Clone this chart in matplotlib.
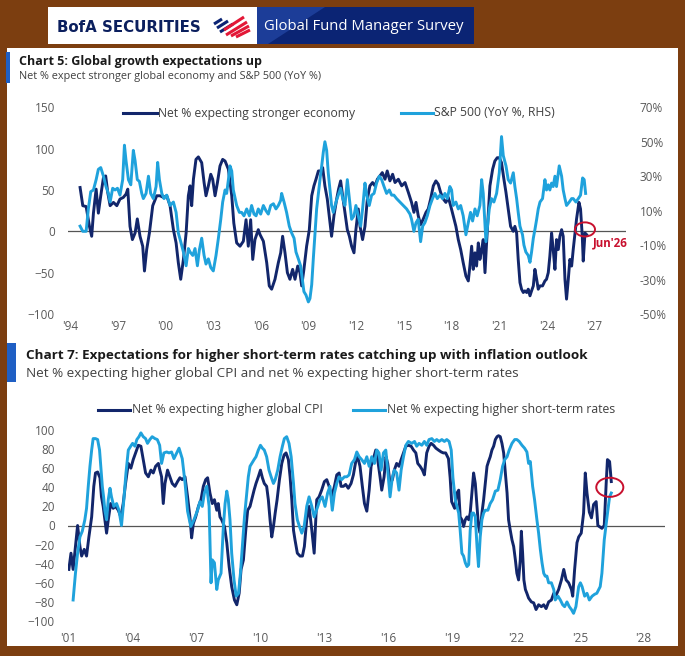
import matplotlib
matplotlib.use("Agg")
import matplotlib.pyplot as plt
from matplotlib.patches import Rectangle, Ellipse, Polygon
from matplotlib.lines import Line2D

plt.rcParams["font.family"] = ["Open Sans", "DejaVu Sans"]

# Chart 5: net % expecting stronger economy (left axis)
eco_t = [1994.63, 1994.80, 1995.01, 1995.22, 1995.36, 1995.47, 1995.64, 1995.78, 1995.93, 1996.10,
         1996.24, 1996.37, 1996.52, 1996.73, 1996.94, 1997.14, 1997.35, 1997.52, 1997.63, 1997.77,
         1997.92, 1998.09, 1998.23, 1998.40, 1998.57, 1998.68, 1998.82, 1998.99, 1999.20, 1999.45,
         1999.66, 1999.87, 2000.08, 2000.29, 2000.50, 2000.67, 2000.81, 2000.96, 2001.13, 2001.30,
         2001.44, 2001.55, 2001.65, 2001.76, 2001.92, 2002.07, 2002.28, 2002.43, 2002.55, 2002.70,
         2002.85, 2002.97, 2003.12, 2003.27, 2003.43, 2003.60, 2003.75, 2003.96, 2004.17, 2004.30,
         2004.48, 2004.69, 2004.90, 2005.07, 2005.21, 2005.36, 2005.49, 2005.63, 2005.84, 2005.95,
         2006.16, 2006.37, 2006.53, 2006.68, 2006.89, 2007.10, 2007.25, 2007.37, 2007.52, 2007.67,
         2007.83, 2008.00, 2008.15, 2008.32, 2008.46, 2008.57, 2008.71, 2008.88, 2009.05, 2009.20,
         2009.34, 2009.47, 2009.62, 2009.76, 2009.89, 2010.03, 2010.18, 2010.35, 2010.45, 2010.60,
         2010.77, 2010.89, 2011.02, 2011.13, 2011.29, 2011.44, 2011.57, 2011.71, 2011.86, 2011.98,
         2012.13, 2012.24, 2012.40, 2012.55, 2012.70, 2012.86, 2013.03, 2013.18, 2013.33, 2013.49,
         2013.64, 2013.81, 2013.95, 2014.12, 2014.29, 2014.44, 2014.65, 2014.86, 2015.07, 2015.28,
         2015.48, 2015.63, 2015.76, 2015.90, 2016.05, 2016.22, 2016.39, 2016.53, 2016.68, 2016.85,
         2017.01, 2017.16, 2017.31, 2017.48, 2017.64, 2017.79, 2017.94, 2018.10, 2018.27, 2018.42,
         2018.57, 2018.73, 2018.90, 2019.05, 2019.15, 2019.26, 2019.36, 2019.47, 2019.57, 2019.68,
         2019.78, 2019.89, 2019.99, 2020.10, 2020.20, 2020.31, 2020.41, 2020.58, 2020.72, 2020.87,
         2021.00, 2021.14, 2021.29, 2021.42, 2021.56, 2021.71, 2021.88, 2021.98, 2022.09, 2022.19,
         2022.30, 2022.40, 2022.51, 2022.61, 2022.72, 2022.82, 2022.93, 2023.03, 2023.14, 2023.24,
         2023.35, 2023.45, 2023.56, 2023.72, 2023.87, 2023.97, 2024.08, 2024.18, 2024.29, 2024.39,
         2024.50, 2024.60, 2024.71, 2024.81, 2024.92, 2025.02, 2025.13, 2025.23, 2025.34, 2025.44,
         2025.55, 2025.65, 2025.76, 2025.86, 2026.01, 2026.11, 2026.22, 2026.28, 2026.39, 2026.49]
eco_v = [53, 31, 30, 6, -6, 22, 51, 22, 43, 65,
         67, 47, 31, 35, 31, 39, 41, 45, 51, 6,
         -10, -2, 15, -6, -18, -48, -22, -2, 31, 43,
         43, 41, 43, 31, 2, -14, -38, -58, -34, -2,
         43, 55, 31, 63, 87, 90, 83, 59, 43, 55,
         69, 63, 43, 59, 79, 87, 85, 75, 43, 10,
         -14, -18, -12, 14, -18, 14, -34, -10, 2, -4,
         -12, -38, -66, -70, -58, -38, -26, -6, -26, -50,
         -58, -46, -58, -42, -50, -66, -46, -18, 2, 43,
         55, 63, 73, 73, 77, 55, 39, 10, -6, 19,
         39, 51, 61, 45, 23, 2, -6, -18, -26, 2,
         27, 6, -10, 6, 39, 55, 59, 55, 63, 67,
         71, 63, 73, 61, 69, 59, 63, 55, 59, 47,
         35, 23, 35, 19, 8, 15, 23, 27, 39, 55,
         61, 57, 47, 39, 35, 41, 31, 19, 6, -10,
         -22, -38, -54, -60, -42, -18, -46, -26, -42, -14,
         -34, -22, -10, -50, -14, 23, 55, 75, 85, 89,
         89, 83, 63, 47, 27, 6, 0, 6, -2, -34,
         -62, -70, -74, -72, -74, -70, -78, -72, -66, -46,
         -58, -70, -66, -66, -60, -58, -50, -30, -2, -22,
         -46, -10, -22, -6, 2, -6, -58, -82, -58, -34,
         -42, -22, -2, 15, 35, 27, -6, -36, -2, -4]

# Chart 5: S&P 500 YoY % (right axis)
spx_t = [1994.63, 1994.80, 1995.01, 1995.15, 1995.30, 1995.47, 1995.64, 1995.78, 1995.93, 1996.10,
         1996.26, 1996.41, 1996.52, 1996.68, 1996.83, 1996.98, 1997.14, 1997.31, 1997.42, 1997.52,
         1997.67, 1997.82, 1997.98, 1998.09, 1998.23, 1998.36, 1998.51, 1998.61, 1998.78, 1998.93,
         1999.07, 1999.24, 1999.41, 1999.51, 1999.62, 1999.77, 1999.91, 2000.08, 2000.29, 2000.50,
         2000.67, 2000.81, 2000.96, 2001.13, 2001.30, 2001.44, 2001.55, 2001.72, 2001.86, 2002.01,
         2002.13, 2002.28, 2002.43, 2002.55, 2002.70, 2002.85, 2003.01, 2003.18, 2003.33, 2003.48,
         2003.60, 2003.75, 2003.85, 2003.96, 2004.06, 2004.17, 2004.27, 2004.48, 2004.65, 2004.79,
         2004.94, 2005.11, 2005.28, 2005.42, 2005.57, 2005.70, 2005.84, 2005.99, 2006.16, 2006.32,
         2006.47, 2006.62, 2006.79, 2006.95, 2007.10, 2007.25, 2007.31, 2007.46, 2007.62, 2007.79,
         2007.94, 2008.09, 2008.21, 2008.36, 2008.50, 2008.63, 2008.71, 2008.84, 2008.99, 2009.09,
         2009.20, 2009.30, 2009.41, 2009.51, 2009.62, 2009.72, 2009.83, 2009.93, 2010.03, 2010.14,
         2010.24, 2010.35, 2010.45, 2010.56, 2010.73, 2010.87, 2011.02, 2011.15, 2011.29, 2011.44,
         2011.57, 2011.71, 2011.86, 2011.98, 2012.13, 2012.28, 2012.40, 2012.55, 2012.66, 2012.82,
         2012.97, 2013.12, 2013.28, 2013.45, 2013.60, 2013.75, 2013.91, 2014.08, 2014.23, 2014.37,
         2014.54, 2014.75, 2014.96, 2015.17, 2015.38, 2015.48, 2015.63, 2015.76, 2015.90, 2016.05,
         2016.18, 2016.32, 2016.47, 2016.64, 2016.80, 2016.95, 2017.10, 2017.27, 2017.43, 2017.58,
         2017.73, 2017.89, 2018.00, 2018.10, 2018.27, 2018.42, 2018.57, 2018.73, 2018.90, 2019.05,
         2019.19, 2019.32, 2019.47, 2019.61, 2019.78, 2019.89, 2019.99, 2020.16, 2020.26, 2020.37,
         2020.51, 2020.66, 2020.83, 2021.00, 2021.14, 2021.25, 2021.42, 2021.56, 2021.71, 2021.88,
         2021.98, 2022.09, 2022.19, 2022.30, 2022.46, 2022.55, 2022.67, 2022.82, 2022.93, 2023.03,
         2023.14, 2023.24, 2023.35, 2023.45, 2023.56, 2023.72, 2023.87, 2023.97, 2024.08, 2024.18,
         2024.29, 2024.39, 2024.50, 2024.60, 2024.77, 2024.92, 2025.02, 2025.13, 2025.23, 2025.40,
         2025.55, 2025.65, 2025.82, 2025.97, 2026.11, 2026.24, 2026.34, 2026.43]
spx_v = [1, -2, -2, 11, 21, 22, 28, 34, 35, 30,
         24, 20, 15, 23, 22, 23, 19, 28, 48, 39,
         28, 25, 45, 39, 28, 27, 20, 17, 20, 30,
         20, 17, 24, 38, 28, 20, 17, 19, 13, 15,
         9, -3, -8, -14, -22, -12, -14, -16, -12, -22,
         -13, -6, -16, -21, -18, -23, -25, -16, -6, 5,
         15, 22, 20, 28, 36, 33, 22, 13, 9, 9,
         7, 11, 7, 13, 8, 7, 11, 8, 13, 10,
         8, 13, 14, 11, 13, 16, 20, 15, 9, 1,
         -3, -6, -14, -18, -22, -31, -37, -39, -43, -41,
         -33, -18, -3, 11, 20, 28, 36, 44, 50, 45,
         32, 22, 13, 9, 15, 19, 23, 17, 13, 28,
         17, 5, 7, 13, 7, 1, 11, 26, 19, 13,
         19, 20, 26, 30, 28, 24, 20, 22, 19, 19,
         17, 15, 13, 11, 8, 5, -2, 3, 5, -8,
         1, 3, 7, 13, 17, 20, 17, 19, 17, 20,
         17, 24, 22, 13, 15, 11, 13, 7, -4, 3,
         9, 4, 11, 7, 13, 28, 20, -8, 1, 11,
         17, 15, 20, 32, 53, 42, 36, 28, 26, 32,
         24, 17, 9, 1, -4, -10, -14, -16, -20, -14,
         -6, -1, 5, 11, 15, 17, 28, 22, 25, 22,
         26, 24, 30, 24, 36, 30, 22, 17, 13, 15,
         17, 17, 15, 17, 19, 29, 28, 20]

# Chart 7: net % expecting higher global CPI
cpi_t = [2001.03, 2001.13, 2001.23, 2001.34, 2001.44, 2001.55, 2001.63, 2001.75, 2001.86, 2001.97,
         2002.10, 2002.20, 2002.28, 2002.38, 2002.49, 2002.56, 2002.64, 2002.72, 2002.80, 2002.88,
         2002.99, 2003.11, 2003.22, 2003.35, 2003.47, 2003.58, 2003.69, 2003.82, 2003.94, 2004.05,
         2004.16, 2004.29, 2004.41, 2004.52, 2004.63, 2004.76, 2004.88, 2004.99, 2005.10, 2005.23,
         2005.30, 2005.38, 2005.46, 2005.54, 2005.66, 2005.77, 2005.88, 2006.01, 2006.13, 2006.24,
         2006.35, 2006.48, 2006.60, 2006.71, 2006.79, 2006.87, 2006.98, 2007.11, 2007.23, 2007.34,
         2007.45, 2007.54, 2007.65, 2007.76, 2007.86, 2007.97, 2008.04, 2008.12, 2008.20, 2008.33,
         2008.44, 2008.55, 2008.67, 2008.80, 2008.91, 2009.02, 2009.11, 2009.22, 2009.33, 2009.42,
         2009.53, 2009.61, 2009.72, 2009.81, 2009.92, 2010.02, 2010.11, 2010.20, 2010.31, 2010.39,
         2010.47, 2010.55, 2010.63, 2010.71, 2010.80, 2010.91, 2011.02, 2011.13, 2011.22, 2011.33,
         2011.41, 2011.49, 2011.57, 2011.64, 2011.75, 2011.88, 2011.99, 2012.08, 2012.19, 2012.30,
         2012.43, 2012.54, 2012.66, 2012.77, 2012.89, 2013.02, 2013.13, 2013.24, 2013.36, 2013.49,
         2013.60, 2013.71, 2013.80, 2013.91, 2014.02, 2014.14, 2014.27, 2014.38, 2014.49, 2014.58,
         2014.69, 2014.80, 2014.90, 2015.01, 2015.12, 2015.21, 2015.32, 2015.43, 2015.52, 2015.63,
         2015.71, 2015.82, 2015.91, 2015.99, 2016.10, 2016.21, 2016.30, 2016.41, 2016.52, 2016.62,
         2016.73, 2016.84, 2016.96, 2017.09, 2017.20, 2017.31, 2017.40, 2017.51, 2017.62, 2017.71,
         2017.82, 2017.93, 2018.03, 2018.14, 2018.25, 2018.37, 2018.50, 2018.60, 2018.71, 2018.84,
         2018.92, 2018.99, 2019.13, 2019.24, 2019.32, 2019.39, 2019.47, 2019.55, 2019.63, 2019.71,
         2019.79, 2019.86, 2019.94, 2020.02, 2020.10, 2020.18, 2020.25, 2020.33, 2020.41, 2020.49,
         2020.57, 2020.65, 2020.72, 2020.80, 2020.88, 2020.96, 2021.04, 2021.12, 2021.19, 2021.27,
         2021.35, 2021.43, 2021.51, 2021.59, 2021.66, 2021.74, 2021.82, 2021.90, 2021.98, 2022.05,
         2022.13, 2022.21, 2022.26, 2022.32, 2022.38, 2022.45, 2022.52, 2022.60, 2022.73, 2022.84,
         2022.95, 2023.07, 2023.20, 2023.31, 2023.42, 2023.54, 2023.67, 2023.78, 2023.89, 2024.01,
         2024.14, 2024.25, 2024.36, 2024.48, 2024.61, 2024.67, 2024.76, 2024.87, 2024.95, 2025.07,
         2025.18, 2025.26, 2025.34, 2025.45, 2025.55, 2025.65, 2025.77, 2025.85, 2026.04, 2026.15,
         2026.24, 2026.30, 2026.40, 2026.48]
cpi_v = [-46, -29, -46, -22, 0, -22, -32, -25, -32, -12,
         9, 41, 55, 56, 50, 30, 20, 6, -8, 6,
         23, 18, 20, 16, 9, 23, 44, 65, 60, 69,
         76, 84, 83, 69, 55, 51, 58, 55, 62, 65,
         58, 51, 23, 44, 58, 51, 44, 41, 46, 50,
         48, 51, 30, 9, -13, 2, 9, 20, 27, 41,
         48, 50, 34, 23, 27, 16, 23, 9, 6, -1,
         -18, -43, -64, -78, -83, -71, -46, -36, -5, 16,
         20, 27, 37, 44, 51, 58, 50, 44, 41, 27,
         6, -12, -1, 13, 27, 48, 65, 74, 76, 69,
         51, 27, -5, -15, -29, -32, -32, -22, 6, 20,
         -5, -29, 27, 30, 37, 46, 48, 41, 30, 41,
         53, 55, 41, 41, 43, 39, 44, 53, 67, 72,
         62, 41, 23, 15, 37, 62, 70, 79, 69, 51,
         37, 51, 72, 65, 44, 48, 58, 65, 62, 69,
         76, 83, 84, 83, 79, 76, 65, 62, 58, 53,
         76, 83, 86, 84, 81, 79, 77, 76, 76, 70,
         50, 25, 18, 34, 37, 9, 6, -1, 6, 9,
         6, 13, 34, 55, 44, 20, -1, -8, 13, 27,
         44, 62, 67, 72, 79, 83, 90, 93, 94, 93,
         86, 76, 55, 34, 6, -5, -15, -22, -36, -50,
         -57, -36, -6, -29, -57, -67, -71, -76, -80, -81,
         -88, -83, -85, -83, -87, -80, -78, -71, -73, -67,
         -57, -46, -57, -60, -67, -74, -46, -18, -12, -8,
         13, 55, 34, 14, 8, 22, 25, 0, -3, 0,
         44, 69, 67, 46]

# Chart 7: net % expecting higher short-term rates
rate_t = [2001.23, 2001.34, 2001.44, 2001.55, 2001.66, 2001.78, 2001.86, 2001.94, 2002.02, 2002.10,
          2002.17, 2002.28, 2002.38, 2002.47, 2002.53, 2002.60, 2002.66, 2002.72, 2002.80, 2002.88,
          2002.96, 2003.03, 2003.14, 2003.27, 2003.38, 2003.50, 2003.61, 2003.71, 2003.82, 2003.93,
          2004.02, 2004.13, 2004.22, 2004.32, 2004.41, 2004.52, 2004.63, 2004.72, 2004.83, 2004.94,
          2005.07, 2005.18, 2005.29, 2005.38, 2005.49, 2005.62, 2005.73, 2005.85, 2005.96, 2006.09,
          2006.20, 2006.35, 2006.48, 2006.60, 2006.75, 2006.90, 2007.07, 2007.18, 2007.29, 2007.39,
          2007.50, 2007.61, 2007.70, 2007.76, 2007.86, 2007.97, 2008.04, 2008.17, 2008.28, 2008.36,
          2008.44, 2008.51, 2008.59, 2008.67, 2008.78, 2008.88, 2008.99, 2009.08, 2009.17, 2009.27,
          2009.38, 2009.45, 2009.53, 2009.61, 2009.72, 2009.81, 2009.92, 2010.02, 2010.11, 2010.20,
          2010.31, 2010.42, 2010.52, 2010.63, 2010.71, 2010.83, 2010.94, 2011.05, 2011.14, 2011.25,
          2011.36, 2011.46, 2011.57, 2011.64, 2011.75, 2011.85, 2011.96, 2012.07, 2012.19, 2012.30,
          2012.43, 2012.54, 2012.71, 2012.81, 2012.92, 2013.05, 2013.17, 2013.28, 2013.39, 2013.49,
          2013.60, 2013.71, 2013.83, 2013.96, 2014.07, 2014.18, 2014.30, 2014.43, 2014.54, 2014.65,
          2014.77, 2014.90, 2015.01, 2015.12, 2015.24, 2015.37, 2015.48, 2015.58, 2015.68, 2015.79,
          2015.90, 2015.99, 2016.10, 2016.21, 2016.30, 2016.41, 2016.52, 2016.62, 2016.73, 2016.84,
          2016.96, 2017.12, 2017.25, 2017.35, 2017.46, 2017.59, 2017.71, 2017.82, 2017.93, 2018.06,
          2018.18, 2018.29, 2018.40, 2018.53, 2018.65, 2018.76, 2018.87, 2018.97, 2019.05, 2019.16,
          2019.24, 2019.32, 2019.39, 2019.47, 2019.55, 2019.63, 2019.71, 2019.79, 2019.86, 2019.94,
          2020.02, 2020.10, 2020.18, 2020.25, 2020.33, 2020.41, 2020.49, 2020.57, 2020.69, 2020.80,
          2020.91, 2021.04, 2021.16, 2021.27, 2021.38, 2021.48, 2021.59, 2021.69, 2021.82, 2021.95,
          2022.05, 2022.16, 2022.29, 2022.41, 2022.52, 2022.60, 2022.68, 2022.79, 2022.88, 2022.99,
          2023.07, 2023.15, 2023.23, 2023.31, 2023.38, 2023.46, 2023.54, 2023.67, 2023.78, 2023.85,
          2023.98, 2024.09, 2024.20, 2024.29, 2024.40, 2024.51, 2024.61, 2024.71, 2024.82, 2024.95,
          2025.03, 2025.11, 2025.23, 2025.34, 2025.45, 2025.58, 2025.70, 2025.80, 2025.96, 2026.04,
          2026.15, 2026.28, 2026.40, 2026.48]
rate_v = [-78, -50, -29, -12, -6, 6, 18, 41, 62, 79,
          91, 91, 90, 79, 62, 41, 30, 16, 6, 27,
          39, 30, 20, 23, 16, 0, 27, 55, 79, 83,
          86, 83, 90, 93, 97, 93, 91, 86, 90, 93,
          91, 90, 84, 65, 76, 77, 76, 77, 70, 76,
          81, 70, 45, 15, -1, 6, 16, 25, 20, 34,
          41, 20, -60, -36, -39, -67, -57, -50, -1, 23,
          36, 27, 6, -29, -57, -74, -71, -50, -22, 9,
          34, 51, 62, 65, 69, 72, 79, 84, 81, 79,
          72, 58, 51, 44, 48, 58, 72, 83, 91, 93,
          86, 72, 44, 23, 6, -1, -8, -1, 20, 30,
          20, 9, 20, 27, 30, 20, 34, 41, 16, 34,
          44, 51, 48, 51, 51, 53, 65, 69, 77, 72,
          69, 65, 72, 62, 72, 65, 79, 76, 58, 76,
          79, 58, 30, 51, 58, 55, 37, 58, 72, 84,
          88, 86, 88, 83, 86, 84, 88, 84, 90, 91,
          88, 90, 88, 90, 88, 90, 88, 79, 50, 27,
          20, 13, -5, -29, -32, -39, -43, -41, -5, 13,
          13, 9, -22, -43, -12, 6, 13, 16, 16, 23,
          27, 36, 37, 48, 62, 69, 72, 79, 86, 90,
          90, 88, 84, 81, 77, 65, 67, 41, 27, 6,
          -8, -25, -39, -50, -53, -53, -60, -60, -67, -78,
          -74, -78, -83, -85, -80, -85, -88, -92, -85, -64,
          -60, -64, -74, -71, -78, -74, -72, -71, -64, -50,
          -15, 9, 30, 34]

ticks5 = [1994, 1997, 2000, 2003, 2006, 2009, 2012, 2015, 2018, 2021, 2024, 2027]
ticks7 = [2001, 2004, 2007, 2010, 2013, 2016, 2019, 2022, 2025, 2028]

BROWN = "#7c3e10"
NAVY = "#12266b"
CYAN = "#1fa2dc"
RED = "#c8102e"
GREY = "#595959"
LW = 2.1

W, H = 685, 656
fig = plt.figure(figsize=(W / 100, H / 100), dpi=100)
fig.patch.set_facecolor(BROWN)


def fx(x):
    return x / W


def fy(y):
    return 1 - y / H


def rect(x0, y0, x1, y1):
    return [x0 / W, 1 - y1 / H, (x1 - x0) / W, (y1 - y0) / H]


def box(x0, y0, x1, y1, color):
    fig.add_artist(Rectangle((fx(x0), fy(y1)), (x1 - x0) / W, (y1 - y0) / H,
                             transform=fig.transFigure, color=color, lw=0, zorder=-5))


# header and white panel (drawn under the axes)
box(7, 48, 678, 646, "white")
box(48, 7, 257, 44, "white")
box(257, 7, 474, 44, "#0b2474")
fig.add_artist(Polygon([(fx(257), fy(7)), (fx(325), fy(7)), (fx(268), fy(44)), (fx(257), fy(44))],
                       closed=True, transform=fig.transFigure, color="#1c3d98", lw=0, zorder=-4))
fig.text(fx(57), fy(27), "BofA SECURITIES", family="DejaVu Sans", fontweight="bold",
         fontsize=10.8, color="#0b1f5e", va="center", ha="left")
for x0, y0, x1, y1 in [(214, 24, 222, 19), (217, 28, 228, 21), (220, 32, 233, 24)]:
    fig.add_artist(Line2D([fx(x0), fx(x1)], [fy(y0), fy(y1)], transform=fig.transFigure,
                          color="#0b2474", lw=2.2, solid_capstyle="butt"))
for x0, y0, x1, y1 in [(226, 35, 247, 22), (231, 36, 249, 26), (224, 30, 244, 17), (236, 37, 250, 30)]:
    fig.add_artist(Line2D([fx(x0), fx(x1)], [fy(y0), fy(y1)], transform=fig.transFigure,
                          color="#e31837", lw=2.2, solid_capstyle="butt"))
fig.text(fx(264), fy(26), "Global Fund Manager Survey", color="white", fontsize=10.7,
         va="center", ha="left")

# ---------------- Chart 5 ----------------
box(6, 52, 10, 83, "#1f5fc4")
fig.text(fx(19), fy(62), "Chart 5: Global growth expectations up", fontweight="bold",
         fontsize=9.0, color="#1a1a1a", va="center")
fig.text(fx(19), fy(76), "Net % expect stronger global economy and S&P 500 (YoY %)",
         fontsize=7.8, color="#404040", va="center")

ax1 = fig.add_axes(rect(68, 107.3, 626, 314))
ax1.patch.set_alpha(0)
ax1.set_xlim(1993.87, 2028.97)
ax1.set_ylim(-100, 150)
ax1.axhline(0, color="#555555", lw=0.9, zorder=1)
ax1.plot(eco_t, eco_v, color=NAVY, lw=LW, zorder=3)
ax1.set_xticks(ticks5)
ax1.set_xticklabels(["'" + str(t)[2:] for t in ticks5])
ax1.set_yticks([-100, -50, 0, 50, 100, 150])
ax1.tick_params(length=0, labelsize=8.5, labelcolor=GREY)
ax1.tick_params(axis="y", pad=9.5)
ax1.tick_params(axis="x", pad=4)

ax2 = ax1.twinx()
ax2.set_ylim(-50, 70)
ax2.plot(spx_t, spx_v, color=CYAN, lw=LW)
ax2.set_yticks([-50, -30, -10, 10, 30, 50, 70])
ax2.set_yticklabels([str(v) + "%" for v in [-50, -30, -10, 10, 30, 50, 70]])
ax2.tick_params(length=0, labelsize=8.5, labelcolor=GREY, pad=10)
for a in (ax1, ax2):
    for s in a.spines.values():
        s.set_visible(False)

ax2.add_patch(Ellipse((2026.39, -0.9), 1.26, 8.2, fill=False, ec=RED, lw=1.4, zorder=5))
ax2.text(2026.9, -8.5, "Jun'26", color=RED, fontsize=8.3, fontweight="bold",
         ha="left", va="center")

fig.add_artist(Line2D([fx(123), fx(157)], [fy(113), fy(113)], transform=fig.transFigure, color=NAVY, lw=2.2))
fig.text(fx(158), fy(113), "Net % expecting stronger economy", fontsize=8.7, color="#404040", va="center")
fig.add_artist(Line2D([fx(401), fx(433)], [fy(113), fy(113)], transform=fig.transFigure, color=CYAN, lw=2.2))
fig.text(fx(434), fy(113), "S&P 500 (YoY %, RHS)", fontsize=8.7, color="#404040", va="center")

# ---------------- Chart 7 ----------------
box(7, 343, 16, 382, "#1f5fc4")
fig.text(fx(26), fy(355), "Chart 7: Expectations for higher short-term rates catching up with inflation outlook",
         fontweight="bold", fontsize=9.7, color="#1a1a1a", va="center")
fig.text(fx(26), fy(373), "Net % expecting higher global CPI and net % expecting higher short-term rates",
         fontsize=9.7, color="#404040", va="center")

ax3 = fig.add_axes(rect(68, 430, 665, 621))
ax3.patch.set_alpha(0)
ax3.set_xlim(2000.99, 2029.0)
ax3.set_ylim(-100, 100)
ax3.axhline(0, color="#555555", lw=0.9, zorder=1)
ax3.plot(cpi_t, cpi_v, color=NAVY, lw=LW, zorder=3)
ax3.plot(rate_t, rate_v, color=CYAN, lw=LW, zorder=4)
ax3.set_xticks(ticks7)
ax3.set_xticklabels(["'" + str(t)[2:] for t in ticks7])
ax3.set_yticks(range(-100, 101, 20))
ax3.tick_params(length=0, labelsize=8.5, labelcolor=GREY)
ax3.tick_params(axis="y", pad=9.5)
ax3.tick_params(axis="x", pad=8)
for s in ax3.spines.values():
    s.set_visible(False)
ax3.add_patch(Ellipse((2026.41, 40), 1.27, 20, fill=False, ec=RED, lw=1.4, zorder=5))

fig.add_artist(Line2D([fx(98), fx(130)], [fy(410), fy(410)], transform=fig.transFigure, color=NAVY, lw=2.2))
fig.text(fx(132), fy(410), "Net % expecting higher global CPI", fontsize=8.8, color="#404040", va="center")
fig.add_artist(Line2D([fx(353), fx(385)], [fy(410), fy(410)], transform=fig.transFigure, color=CYAN, lw=2.2))
fig.text(fx(387), fy(410), "Net % expecting higher short-term rates", fontsize=8.8, color="#404040", va="center")

fig.savefig("out.png", dpi=100, facecolor=fig.get_facecolor())
